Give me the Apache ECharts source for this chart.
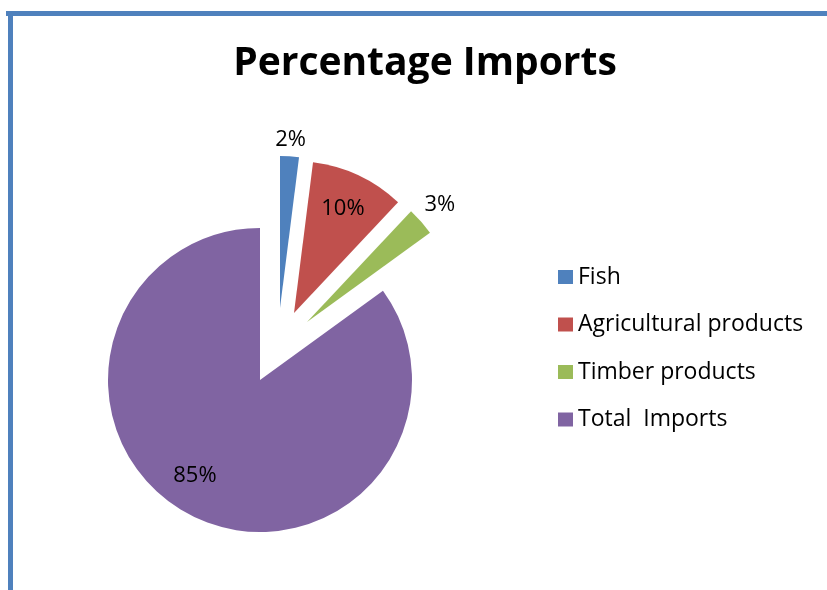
<!DOCTYPE html>
<html>
<head>
<meta charset="utf-8">
<script src="https://cdn.jsdelivr.net/npm/echarts@6/dist/echarts.min.js"></script>
<style>
  html, body { margin: 0; padding: 0; background: #fff; }
  #chart { width: 827px; height: 590px; }
</style>
</head>
<body>
<div id="chart"></div>
<script>
// Share of imports by category (percent)
const categories = ['Fish', 'Agricultural products', 'Timber products', 'Total  Imports'];
const shares = [2, 10, 3, 85];
const sliceColors = ['#4F81BD', '#C0504D', '#9BBB59', '#8064A2'];

// Pull-out of each slice from the pie centre (px) and distance of its label from the slice apex
const pieCenter = [260, 380];
const pieRadius = 152;
const explode = [[20, -72], [34, -67], [47, -58], [0, 0]];
const labelDist = [166, 112, 174, 104];
// extra padding around a label box, used to nudge the large slice's label sideways
const labelPad = [0, 0, 0, [0, 33, 0, 0]];

const FONT = '"Open Sans"';
const CLEAR = 'rgba(0,0,0,0)';
const chart = echarts.init(document.getElementById('chart'), null, { renderer: 'canvas' });

// One wedge per series so that every slice can be pulled out on its own;
// the other categories stay in the data (keeping the angles) but are not painted.
function wedgeData(keep) {
  return categories.map((name, i) => ({
    name: name,
    value: shares[i],
    itemStyle: { color: i === keep ? sliceColors[i] : CLEAR }
  }));
}
function labelData(keep) {
  return categories.map((name, i) => ({
    name: name,
    value: shares[i],
    itemStyle: { color: CLEAR },
    label: { show: i === keep, padding: labelPad[i] }
  }));
}

const series = [];
categories.forEach((name, i) => {
  const c = [pieCenter[0] + explode[i][0], pieCenter[1] + explode[i][1]];
  const common = {
    type: 'pie',
    center: c,
    startAngle: 90,
    clockwise: true,
    silent: true,
    animation: false,
    labelLine: { show: false },
    emphasis: { disabled: true }
  };
  // visible wedge
  series.push(Object.assign({}, common, {
    radius: [0, pieRadius],
    label: { show: false },
    itemStyle: { borderWidth: 0 },
    data: wedgeData(i)
  }));
  // value label for the wedge
  series.push(Object.assign({}, common, {
    radius: [0, labelDist[i] * 2],
    label: {
      show: true,
      position: 'inside',
      formatter: p => p.value + '%',
      fontFamily: FONT,
      fontSize: 22,
      color: '#000'
    },
    itemStyle: { borderWidth: 0 },
    data: labelData(i)
  }));
});

chart.setOption({
  backgroundColor: '#fff',
  animation: false,
  title: {
    text: 'Percentage Imports',
    left: 420,
    textAlign: 'center',
    top: 39,
    textStyle: { fontFamily: FONT, fontWeight: 'bold', fontSize: 39, color: '#000' }
  },
  legend: {
    orient: 'vertical',
    left: 558,
    top: 265,
    padding: 0,
    icon: 'rect',
    itemWidth: 15,
    itemHeight: 14,
    itemGap: 23.5,
    selectedMode: false,
    textStyle: { fontFamily: FONT, fontSize: 23, lineHeight: 24, color: '#000' },
    data: categories.map((n, i) => ({
      name: n,
      itemStyle: { color: sliceColors[i], opacity: 1, borderWidth: 0 }
    }))
  },
  graphic: [
    // chart frame, top and left edges
    { type: 'rect', shape: { x: 6, y: 11, width: 821, height: 5 }, style: { fill: '#4F81BD' }, silent: true },
    { type: 'rect', shape: { x: 8, y: 11, width: 5, height: 579 }, style: { fill: '#4F81BD' }, silent: true }
  ],
  series: series
});
</script>
</body>
</html>
